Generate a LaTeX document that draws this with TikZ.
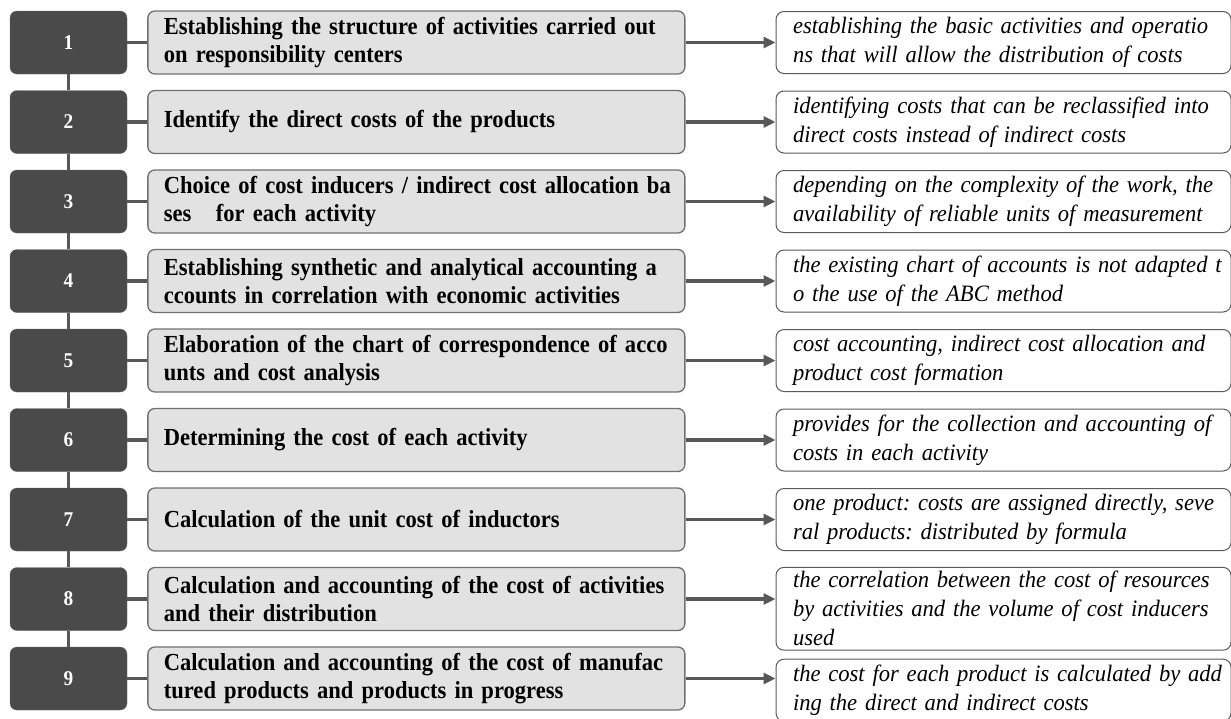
\documentclass[tikz,border=0pt]{standalone}
\usepackage{fontspec}
\setmainfont{Liberation Serif}
\newfontfamily\stepfont{Liberation Serif}[FakeStretch=0.92]
\newfontfamily\notefont{Liberation Serif}[FakeStretch=0.96]
\newcommand\nohyph{\frenchspacing\hyphenpenalty=10000\relax}
\newcommand\textindent{\leftskip=8pt\relax}
\usepackage{xcolor}
\usepackage{tikz}
\usetikzlibrary{arrows.meta}
\usetikzlibrary{positioning}
\definecolor{numfill}{RGB}{74,74,74}
\definecolor{stepfill}{RGB}{226,226,226}
\definecolor{stepline}{RGB}{112,112,112}
\definecolor{noteline}{RGB}{90,90,90}
\definecolor{linkgray}{RGB}{88,88,88}
\tikzset{>={Triangle[length=12pt,width=11pt]}}
\tikzset{
  num/.style={fill=numfill, draw=numfill!85!white, rounded corners=7pt, minimum width=117pt, minimum height=63pt, text=white, font=\stepfont\bfseries\fontsize{21}{21}\selectfont},
  stepbox/.style={fill=stepfill, draw=stepline, line width=1.3pt, rounded corners=7pt, minimum height=63pt, text width=521pt, inner xsep=8pt, align=left, execute at begin node=\textindent, font=\stepfont\bfseries\fontsize{24.5}{27.5}\selectfont\nohyph},
  note/.style={fill=white, draw=noteline, line width=1pt, rounded corners=8pt, minimum height=62pt, text width=437pt, inner xsep=9pt, inner ysep=4pt, align=left, execute at begin node=\textindent, font=\notefont\itshape\fontsize{23.5}{29}\selectfont\nohyph},
  link/.style={draw=linkgray, line width=3.5pt}
}

\begin{document}
\begin{tikzpicture}[x=1pt, y=-1pt]
            \useasboundingbox (0,0) rectangle (1231,718);
            \node[num] (n1) at (68.5,42.5) {1};
            \node[num, below=16.1pt of n1] (n2) {2};
            \node[num, below=16.1pt of n2] (n3) {3};
            \node[num, below=16.1pt of n3] (n4) {4};
            \node[num, below=16.1pt of n4] (n5) {5};
            \node[num, below=16.1pt of n5] (n6) {6};
            \node[num, below=16.1pt of n6] (n7) {7};
            \node[num, below=16.1pt of n7] (n8) {8};
            \node[num, below=16.1pt of n8] (n9) {9};
            \node[stepbox, right=20pt of n1] (m1) {Establishing the structure of activities carried out\\on responsibility centers};
            \node[stepbox, right=20pt of n2] (m2) {Identify the direct costs of the products};
            \node[stepbox, right=20pt of n3] (m3) {Choice of cost inducers / indirect cost allocation ba\\ses\ \ \ for each activity};
            \node[stepbox, right=20pt of n4] (m4) {Establishing synthetic and analytical accounting a\\ccounts in correlation with economic activities};
            \node[stepbox, right=20pt of n5] (m5) {Elaboration of the chart of correspondence of acco\\unts and cost analysis};
            \node[stepbox, right=20pt of n6] (m6) {Determining the cost of each activity};
            \node[stepbox, right=20pt of n7] (m7) {Calculation of the unit cost of inductors};
            \node[stepbox, right=20pt of n8] (m8) {Calculation and accounting of the cost of activities\\and their distribution};
            \node[stepbox, right=20pt of n9] (m9) {Calculation and accounting of the cost of manufac\\tured products and products in progress};
            \node[note, right=90pt of m1] (r1) {establishing the basic activities and operatio\\ns that will allow the distribution of costs};
            \node[note, right=90pt of m2] (r2) {identifying costs that can be reclassified into\\direct costs instead of indirect costs};
            \node[note, right=90pt of m3] (r3) {depending on the complexity of the work, the\\availability of reliable units of measurement};
            \node[note, right=90pt of m4] (r4) {the existing chart of accounts is not adapted t\\o the use of the ABC method};
            \node[note, right=90pt of m5] (r5) {cost accounting, indirect cost allocation and\\product cost formation};
            \node[note, right=90pt of m6] (r6) {provides for the collection and accounting of\\costs in each activity};
            \node[note, right=90pt of m7] (r7) {one product: costs are assigned directly, seve\\ral products: distributed by formula};
            \node[note, right=90pt of m8.north east, anchor=north west] (r8) {the correlation between the cost of resources\\by activities and the volume of cost inducers\\used};
            \node[note, below=8pt of r8.south west, anchor=north west] (r9) {the cost for each product is calculated by add\\ing the direct and indirect costs};
            \draw[link] (n1) -- (n2);
            \draw[link] (n2) -- (n3);
            \draw[link] (n3) -- (n4);
            \draw[link] (n4) -- (n5);
            \draw[link] (n5) -- (n6);
            \draw[link] (n6) -- (n7);
            \draw[link] (n7) -- (n8);
            \draw[link] (n8) -- (n9);
            \draw[link] (n1) -- (m1);
            \draw[link] (n2) -- (m2);
            \draw[link] (n3) -- (m3);
            \draw[link] (n4) -- (m4);
            \draw[link] (n5) -- (m5);
            \draw[link] (n6) -- (m6);
            \draw[link] (n7) -- (m7);
            \draw[link] (n8) -- (m8);
            \draw[link] (n9) -- (m9);
            \draw[link, ->] (m1) -- (r1);
            \draw[link, ->] (m2) -- (r2);
            \draw[link, ->] (m3) -- (r3);
            \draw[link, ->] (m4) -- (r4);
            \draw[link, ->] (m5) -- (r5);
            \draw[link, ->] (m6) -- (r6);
            \draw[link, ->] (m7) -- (r7);
            \draw[link, ->] (m8.east) -- (m8.east -| r8.west);
            \draw[link, ->] (m9.east) -- (m9.east -| r9.west);
\end{tikzpicture}
\end{document}
